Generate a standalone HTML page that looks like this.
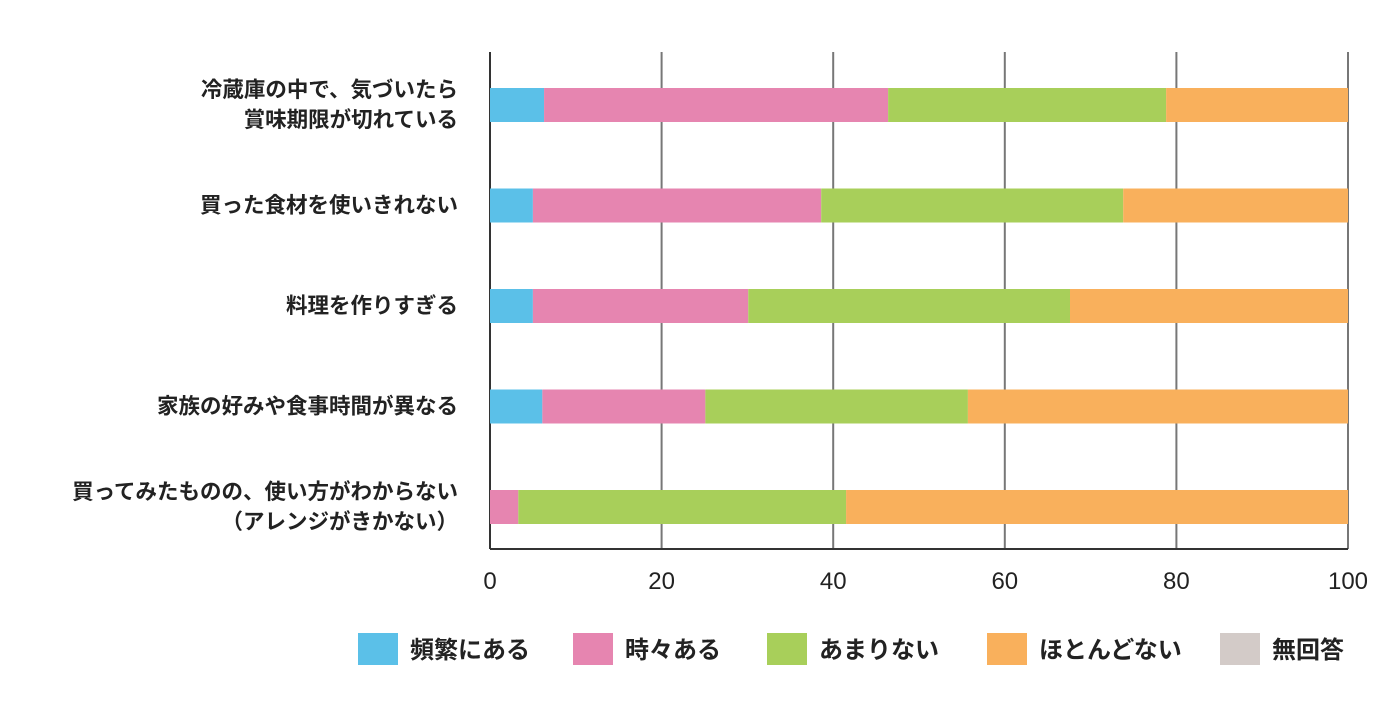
<!DOCTYPE html>
<html><head><meta charset="utf-8"><style>
body{margin:0;background:#fff;width:1400px;height:714px;overflow:hidden;font-family:"Liberation Sans","Noto Sans CJK JP",sans-serif;}
</style></head><body>
<svg id="chart" width="1400" height="714" xmlns="http://www.w3.org/2000/svg" font-family="Liberation Sans, Noto Sans CJK JP, sans-serif"></svg>
<script>
const categories=[["冷蔵庫の中で、気づいたら","賞味期限が切れている"],["買った食材を使いきれない"],["料理を作りすぎる"],["家族の好みや食事時間が異なる"],["買ってみたものの、使い方がわからない","（アレンジがきかない）"]];
const seriesNames=["頻繁にある","時々ある","あまりない","ほとんどない","無回答"];
const frequent=[6.3,5.0,5.0,6.1,0];
const sometimes=[40.1,33.6,25.1,19.0,3.3];
const rarely=[32.4,35.2,37.5,30.6,38.2];
const almostNever=[21.2,26.2,32.4,44.3,58.5];
const noAnswer=[0,0,0,0,0];
const ticks=[0,20,40,60,80,100];
const colors=["#5bc0e8","#e685b0","#a8cf5a","#f9b05c","#d3cbc8"];
const svg=document.getElementById('chart');
const NS="http://www.w3.org/2000/svg";
const x0=490,x1=1348,yTop=52,yBot=549;
const xs=v=>x0+(x1-x0)*v/100;
const rowY=i=>105+i*100.5;
function mk(t,a){const e=document.createElementNS(NS,t);for(const k in a)e.setAttribute(k,a[k]);svg.appendChild(e);return e;}
ticks.forEach((t,i)=>{
 const g=mk('line',{x1:xs(t),x2:xs(t),y1:yTop,y2:yBot,stroke:i==0?'#333':'#777','stroke-width':2});
 
 
 const tl=mk('text',{x:xs(t),y:589,'text-anchor':'middle','font-size':24,fill:'#222'});tl.textContent=t;
 
 
});
const ax=mk('line',{x1:x0,x2:x1,y1:yBot,y2:yBot,stroke:'#333','stroke-width':2});


const series=[frequent,sometimes,rarely,almostNever,noAnswer];
categories.forEach((c,i)=>{
 const cy=rowY(i);let acc=0;
 series.forEach((s,j)=>{
  const v=s[i];if(v<=0){return;}
  const r=mk('rect',{x:xs(acc),y:cy-17,width:xs(acc+v)-xs(acc),height:34,fill:colors[j]});
  
  
  acc+=v;
 });
 c.forEach((line,k)=>{
  const t=mk('text',{x:458,y:cy+7+(c.length==2?(k==0?-15:15):0),'text-anchor':'end','font-size':21.5,'font-weight':'bold',fill:'#222'});
  t.textContent=line;
  
  
 });
});
const lx=[358,573,767,987,1220];
seriesNames.forEach((n,j)=>{
 const r=mk('rect',{x:lx[j],y:633,width:40,height:32,fill:colors[j]});
 
 
 const t=mk('text',{x:lx[j]+52,y:658,'font-size':24,'font-weight':'bold',fill:'#222'});t.textContent=n;
 
 
});
</script>
</body></html>
